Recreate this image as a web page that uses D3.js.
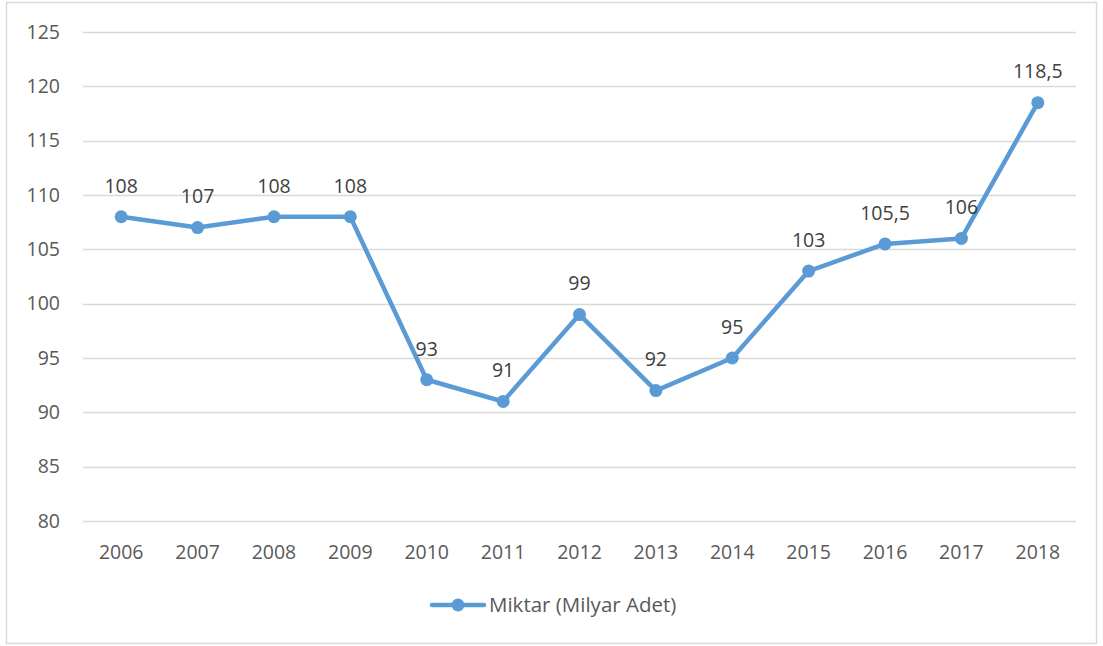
<!DOCTYPE html>
<html>
<head>
<meta charset="utf-8">
<script src="https://d3js.org/d3.v7.min.js"></script>
<style>
  body { margin: 0; background: #fff; }
  text { font-family: "Open Sans", "Liberation Sans", sans-serif; fill: #595959; }
</style>
</head>
<body>
<div id="chart"></div>
<script>
// data
const years = ["2006","2007","2008","2009","2010","2011","2012","2013","2014","2015","2016","2017","2018"];
const values = [108, 107, 108, 108, 93, 91, 99, 92, 95, 103, 105.5, 106, 118.5];
const yTicks = [80, 85, 90, 95, 100, 105, 110, 115, 120, 125];
const seriesName = "Miktar (Milyar Adet)";

const W = 1103, H = 646;
const plot = { left: 83, right: 1076, top: 32, bottom: 521 };
const blue = "#5b9bd5";
const fs = "19.5px";

const svg = d3.select("#chart").append("svg")
    .attr("width", W).attr("height", H);

// chart frame
svg.append("rect")
    .attr("x", 6.5).attr("y", 2.5)
    .attr("width", 1090).attr("height", 641)
    .style("fill", "none").style("stroke", "#d9d9d9").style("stroke-width", 1.5);

const x = d3.scaleBand().domain(years).range([plot.left, plot.right]);
const y = d3.scaleLinear().domain([80, 125]).range([plot.bottom, plot.top]);

// gridlines
svg.append("g")
    .selectAll("line")
    .data(yTicks)
    .join("line")
    .attr("x1", plot.left).attr("x2", plot.right)
    .attr("y1", d => Math.round(y(d)) + 0.5).attr("y2", d => Math.round(y(d)) + 0.5)
    .style("stroke", "#d9d9d9").style("stroke-width", 1.5);

// y labels
svg.append("g")
    .selectAll("text")
    .data(yTicks)
    .join("text")
    .attr("x", 60).attr("y", d => y(d))
    .attr("dy", "0.35em")
    .attr("text-anchor", "end")
    .style("font-size", fs)
    .text(d => d);

// x labels
svg.append("g")
    .selectAll("text")
    .data(years)
    .join("text")
    .attr("x", d => x(d) + x.bandwidth() / 2).attr("y", 552)
    .attr("dy", "0.35em")
    .attr("text-anchor", "middle")
    .style("font-size", fs)
    .text(d => d);

const pts = years.map((yr, i) => ({ yr: yr, v: values[i] }));
const cx = d => x(d.yr) + x.bandwidth() / 2;

// line
svg.append("path")
    .datum(pts)
    .attr("d", d3.line().x(cx).y(d => y(d.v)))
    .style("fill", "none").style("stroke", blue)
    .style("stroke-width", 4.5).style("stroke-linejoin", "round").style("stroke-linecap", "round");

// markers
svg.append("g")
    .selectAll("circle")
    .data(pts)
    .join("circle")
    .attr("cx", cx).attr("cy", d => y(d.v))
    .attr("r", 6.5)
    .style("fill", blue);

// data labels
svg.append("g")
    .selectAll("text")
    .data(pts)
    .join("text")
    .attr("x", cx).attr("y", d => y(d.v) - 31)
    .attr("dy", "0.35em")
    .attr("text-anchor", "middle")
    .style("font-size", fs)
    .style("fill", "#404040")
    .text(d => String(d.v).replace(".", ","));

// legend
const lg = svg.append("g").attr("transform", "translate(0,605)");
lg.append("line")
    .attr("x1", 432).attr("x2", 484).attr("y1", 0).attr("y2", 0)
    .style("stroke", blue).style("stroke-width", 4.5).style("stroke-linecap", "round");
lg.append("circle").attr("cx", 458).attr("cy", 0).attr("r", 6.5).style("fill", blue);
lg.append("text")
    .attr("x", 489).attr("y", 0).attr("dy", "0.35em")
    .style("font-size", "20.5px")
    .text(seriesName);
</script>
</body>
</html>
